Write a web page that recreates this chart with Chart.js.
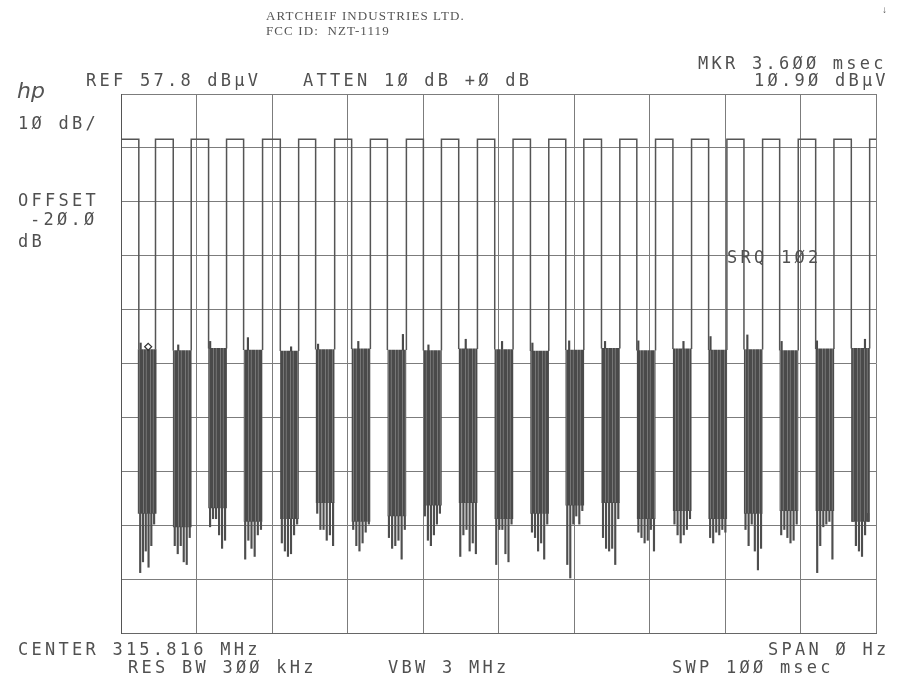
<!DOCTYPE html>
<html>
<head>
<meta charset="utf-8">
<script src="https://cdn.jsdelivr.net/npm/chart.js@4.4.1/dist/chart.umd.min.js"></script>
<style>
  html, body { margin: 0; padding: 0; background: #fff; }
  #wrap { position: relative; width: 897px; height: 700px; overflow: hidden; }
  #wrap canvas { position: absolute; left: 0; top: 0; }
  .hp { position: absolute; font-family: "DejaVu Sans Mono", monospace; font-size: 17px; line-height: 16px; letter-spacing: 3.25px; color: #505050; white-space: pre; }
  .hdr { position: absolute; font-family: "Liberation Serif", serif; font-size: 13px; line-height: 13px; letter-spacing: 1.1px; color: #555; white-space: pre; }
  .logo { position: absolute; font-family: "DejaVu Sans", sans-serif; font-style: italic; font-size: 22px; line-height: 22px; color: #555; }
</style>
</head>
<body>
<div id="wrap">
  <canvas id="chart_trace" width="897" height="700"></canvas>
  <div class="hdr" style="left:266px; top:9px;">ARTCHEIF INDUSTRIES LTD.</div>
  <div class="hdr" style="left:266px; top:24px;">FCC ID:  NZT-1119</div>
  <div class="hdr" style="left:882px; top:3px; font-size:10px;">↓</div>
  <div class="logo" style="left:17px; top:80px;">hp</div>
  <div class="hp" style="left:698px; top:55px;">MKR 3.6ØØ msec</div>
  <div class="hp" style="left:86px; top:72px;">REF 57.8 dBμV</div>
  <div class="hp" style="left:303px; top:72px;">ATTEN 1Ø dB +Ø dB</div>
  <div class="hp" style="left:754px; top:72px;">1Ø.9Ø dBμV</div>
  <div class="hp" style="left:18px; top:115px;">1Ø dB/</div>
  <div class="hp" style="left:18px; top:192px;">OFFSET</div>
  <div class="hp" style="left:30px; top:211px;">-2Ø.Ø</div>
  <div class="hp" style="left:18px; top:233px;">dB</div>
  <div class="hp" style="left:727px; top:249px;">SRQ 1Ø2</div>
  <div class="hp" style="left:18px; top:641px;">CENTER 315.816 MHz</div>
  <div class="hp" style="left:768px; top:641px;">SPAN Ø Hz</div>
  <div class="hp" style="left:128px; top:659px;">RES BW 3ØØ kHz</div>
  <div class="hp" style="left:388px; top:659px;">VBW 3 MHz</div>
  <div class="hp" style="left:672px; top:659px;">SWP 1ØØ msec</div>
</div>
<script>
// zero span sweep, 100 ms, 10 dB/div from REF 57.8 dBuV
const xGrid = [0, 10, 20, 30, 40, 50, 60, 70, 80, 90, 100];
const yGrid = [57.8, 47.8, 37.8, 27.8, 17.8, 7.8, -2.2, -12.2, -22.2, -32.2, -42.2];

const pulseLevel = 49.4;
// carrier drops at fallTimes, comes back at riseTimes (msec)
const fallTimes = [2.36, 6.92, 11.60, 16.24, 21.10, 25.78, 30.55, 35.28, 40.05, 44.73, 49.50,
	54.23, 58.91, 63.64, 68.32, 73.10, 77.83, 82.51, 87.24, 92.01, 96.73];
const riseTimes = [4.57, 9.30, 13.98, 18.75, 23.53, 28.30, 33.03, 37.80, 42.44, 47.21, 51.93,
	56.66, 61.30, 66.07, 70.80, 75.57, 80.25, 84.98, 89.70, 94.43, 99.16];

// data bursts between pulses (dBuV)
const burstTop = [10.4, 10.2, 10.6, 10.3, 10.1, 10.4, 10.5, 10.3, 10.2, 10.5, 10.4,
	10.1, 10.3, 10.6, 10.2, 10.5, 10.3, 10.4, 10.2, 10.5, 10.6];
const burstLow = [-20, -22.5, -19, -21.5, -21, -18, -21.5, -20.5, -18.5, -18, -21,
	-20, -18.5, -18, -21, -19.5, -21, -20, -19.5, -19.5, -21.5];
const spikeLows = [
	[-31, -29, -27, -30, -26, -22],
	[-26, -27.5, -26, -29, -29.5, -24.5],
	[-22.5, -21, -21, -24, -26.5, -25],
	[-28.5, -25, -26.5, -28, -24, -23],
	[-25.5, -27, -28, -27.5, -24, -22],
	[-20, -23, -23, -25, -24, -26],
	[-23, -26, -27, -25.5, -23.5, -22],
	[-24.5, -26.5, -26, -25, -28.5, -23],
	[-20.5, -25, -26, -24, -22, -20],
	[-28, -24, -23, -27, -25.5, -27.5],
	[-29.5, -23, -23, -27.5, -29, -22],
	[-23.5, -24.5, -27, -25.5, -28.5, -22],
	[-29.5, -32, -22, -20.5, -22, -19.5],
	[-24.5, -26.5, -27, -26.5, -29.5, -21],
	[-23.5, -24.5, -25.5, -25, -23, -27],
	[-22, -24, -25.5, -24, -23, -21],
	[-24.5, -25.5, -23.5, -24, -23, -23.5],
	[-23, -26, -22, -27, -30.5, -26.5],
	[-24, -23, -24.5, -25.5, -25, -22],
	[-31, -26, -22.5, -22, -21.5, -28.5],
	[-21.5, -26, -27, -28, -24, -20],
];
const peakTimes = [2.6, 7.58, 11.81, 16.81, 22.53, 26.10, 31.43, 37.34, 40.72, 45.66, 50.47,
	54.49, 59.36, 64.11, 68.52, 74.50, 78.08, 82.96, 87.50, 92.18, 98.54];
const peakLevels = [11.6, 11.25, 11.9, 12.6, 10.9, 11.4, 11.9, 13.2, 11.25, 12.3, 11.9,
	11.6, 12.0, 11.9, 12.0, 11.9, 12.8, 13.1, 11.9, 12.0, 12.3];

const markerTime = 3.6;
const markerLevel = 10.9;

// trace: flat carrier on top, drops into each burst (no line across the burst top)
const traceData = [{ x: 0, y: pulseLevel }];
fallTimes.forEach((f, i) => {
	traceData.push(
		{ x: f, y: pulseLevel },
		{ x: f, y: burstTop[i] },
		{ x: (f + riseTimes[i]) / 2, y: null },
		{ x: riseTimes[i], y: burstTop[i] },
		{ x: riseTimes[i], y: pulseLevel }
	);
});
traceData.push({ x: 100, y: pulseLevel });

const bodyData = fallTimes.map((f, i) => ({ x: (f + riseTimes[i]) / 2, y: [burstLow[i], burstTop[i]] }));

const spikeData = [];
spikeLows.forEach((row, i) => {
	const step = (riseTimes[i] - fallTimes[i]) / row.length;
	row.forEach((v, j) => {
		spikeData.push({ x: fallTimes[i] + (j + 0.5) * step, y: [v, burstLow[i]] });
	});
});

const peakData = peakTimes.map((t, i) => ({ x: t, y: [burstTop[i], peakLevels[i]] }));

const canvas = document.getElementById('chart_trace');

// uneven striped fill for the dense burst area
const stripeShades = ['#4a4a4a', '#4a4a4a', '#4a4a4a', '#767676', '#4a4a4a', '#525252', '#6c6c6c'];
const tile = document.createElement('canvas');
tile.width = stripeShades.length;
tile.height = 1;
const tctx = tile.getContext('2d');
stripeShades.forEach((c, i) => {
	tctx.fillStyle = c;
	tctx.fillRect(i, 0, 1, 1);
});
const burstFill = canvas.getContext('2d').createPattern(tile, 'repeat');

const gridStyle = { color: '#7c7c7c', lineWidth: 1, drawTicks: false, offset: false };

const chartTrace = new Chart(canvas, {
	type: 'line',
	data: {
		datasets: [
			{
				type: 'scatter',
				label: 'MKR',
				data: [{ x: markerTime, y: markerLevel }],
				pointStyle: 'rectRot',
				pointRadius: 3.5,
				backgroundColor: '#fff',
				borderColor: '#333',
				borderWidth: 1.2,
				order: 0,
			},
			{
				label: 'trace',
				data: traceData,
				borderColor: '#555',
				borderWidth: 1.5,
				pointRadius: 0,
				tension: 0,
				spanGaps: false,
				order: 1,
			},
			{
				type: 'bar',
				label: 'peaks',
				data: peakData,
				backgroundColor: '#4a4a4a',
				barThickness: 1.5,
				grouped: false,
				order: 2,
			},
			{
				type: 'bar',
				label: 'spikes',
				data: spikeData,
				backgroundColor: '#4e4e4e',
				barThickness: 1.5,
				grouped: false,
				order: 3,
			},
			{
				type: 'bar',
				label: 'burst',
				data: bodyData,
				backgroundColor: burstFill,
				barThickness: 18,
				grouped: false,
				order: 4,
			},
		],
	},
	options: {
		responsive: false,
		maintainAspectRatio: false,
		animation: false,
		layout: {
			padding: { left: 121, right: 21, top: 94, bottom: 67 },
		},
		plugins: {
			legend: { display: false },
			tooltip: { enabled: false },
		},
		scales: {
			x: {
				type: 'linear',
				min: 0,
				max: 100,
				offset: false,
				afterBuildTicks: scale => {
					scale.ticks = xGrid.map(v => ({ value: v }));
				},
				ticks: { display: false },
				grid: gridStyle,
				border: { color: '#666', width: 1 },
			},
			y: {
				type: 'linear',
				min: -42.2,
				max: 57.8,
				afterBuildTicks: scale => {
					scale.ticks = yGrid.map(v => ({ value: v }));
				},
				ticks: { display: false },
				grid: gridStyle,
				border: { color: '#555', width: 1 },
			},
		},
	},
});
</script>
</body>
</html>
